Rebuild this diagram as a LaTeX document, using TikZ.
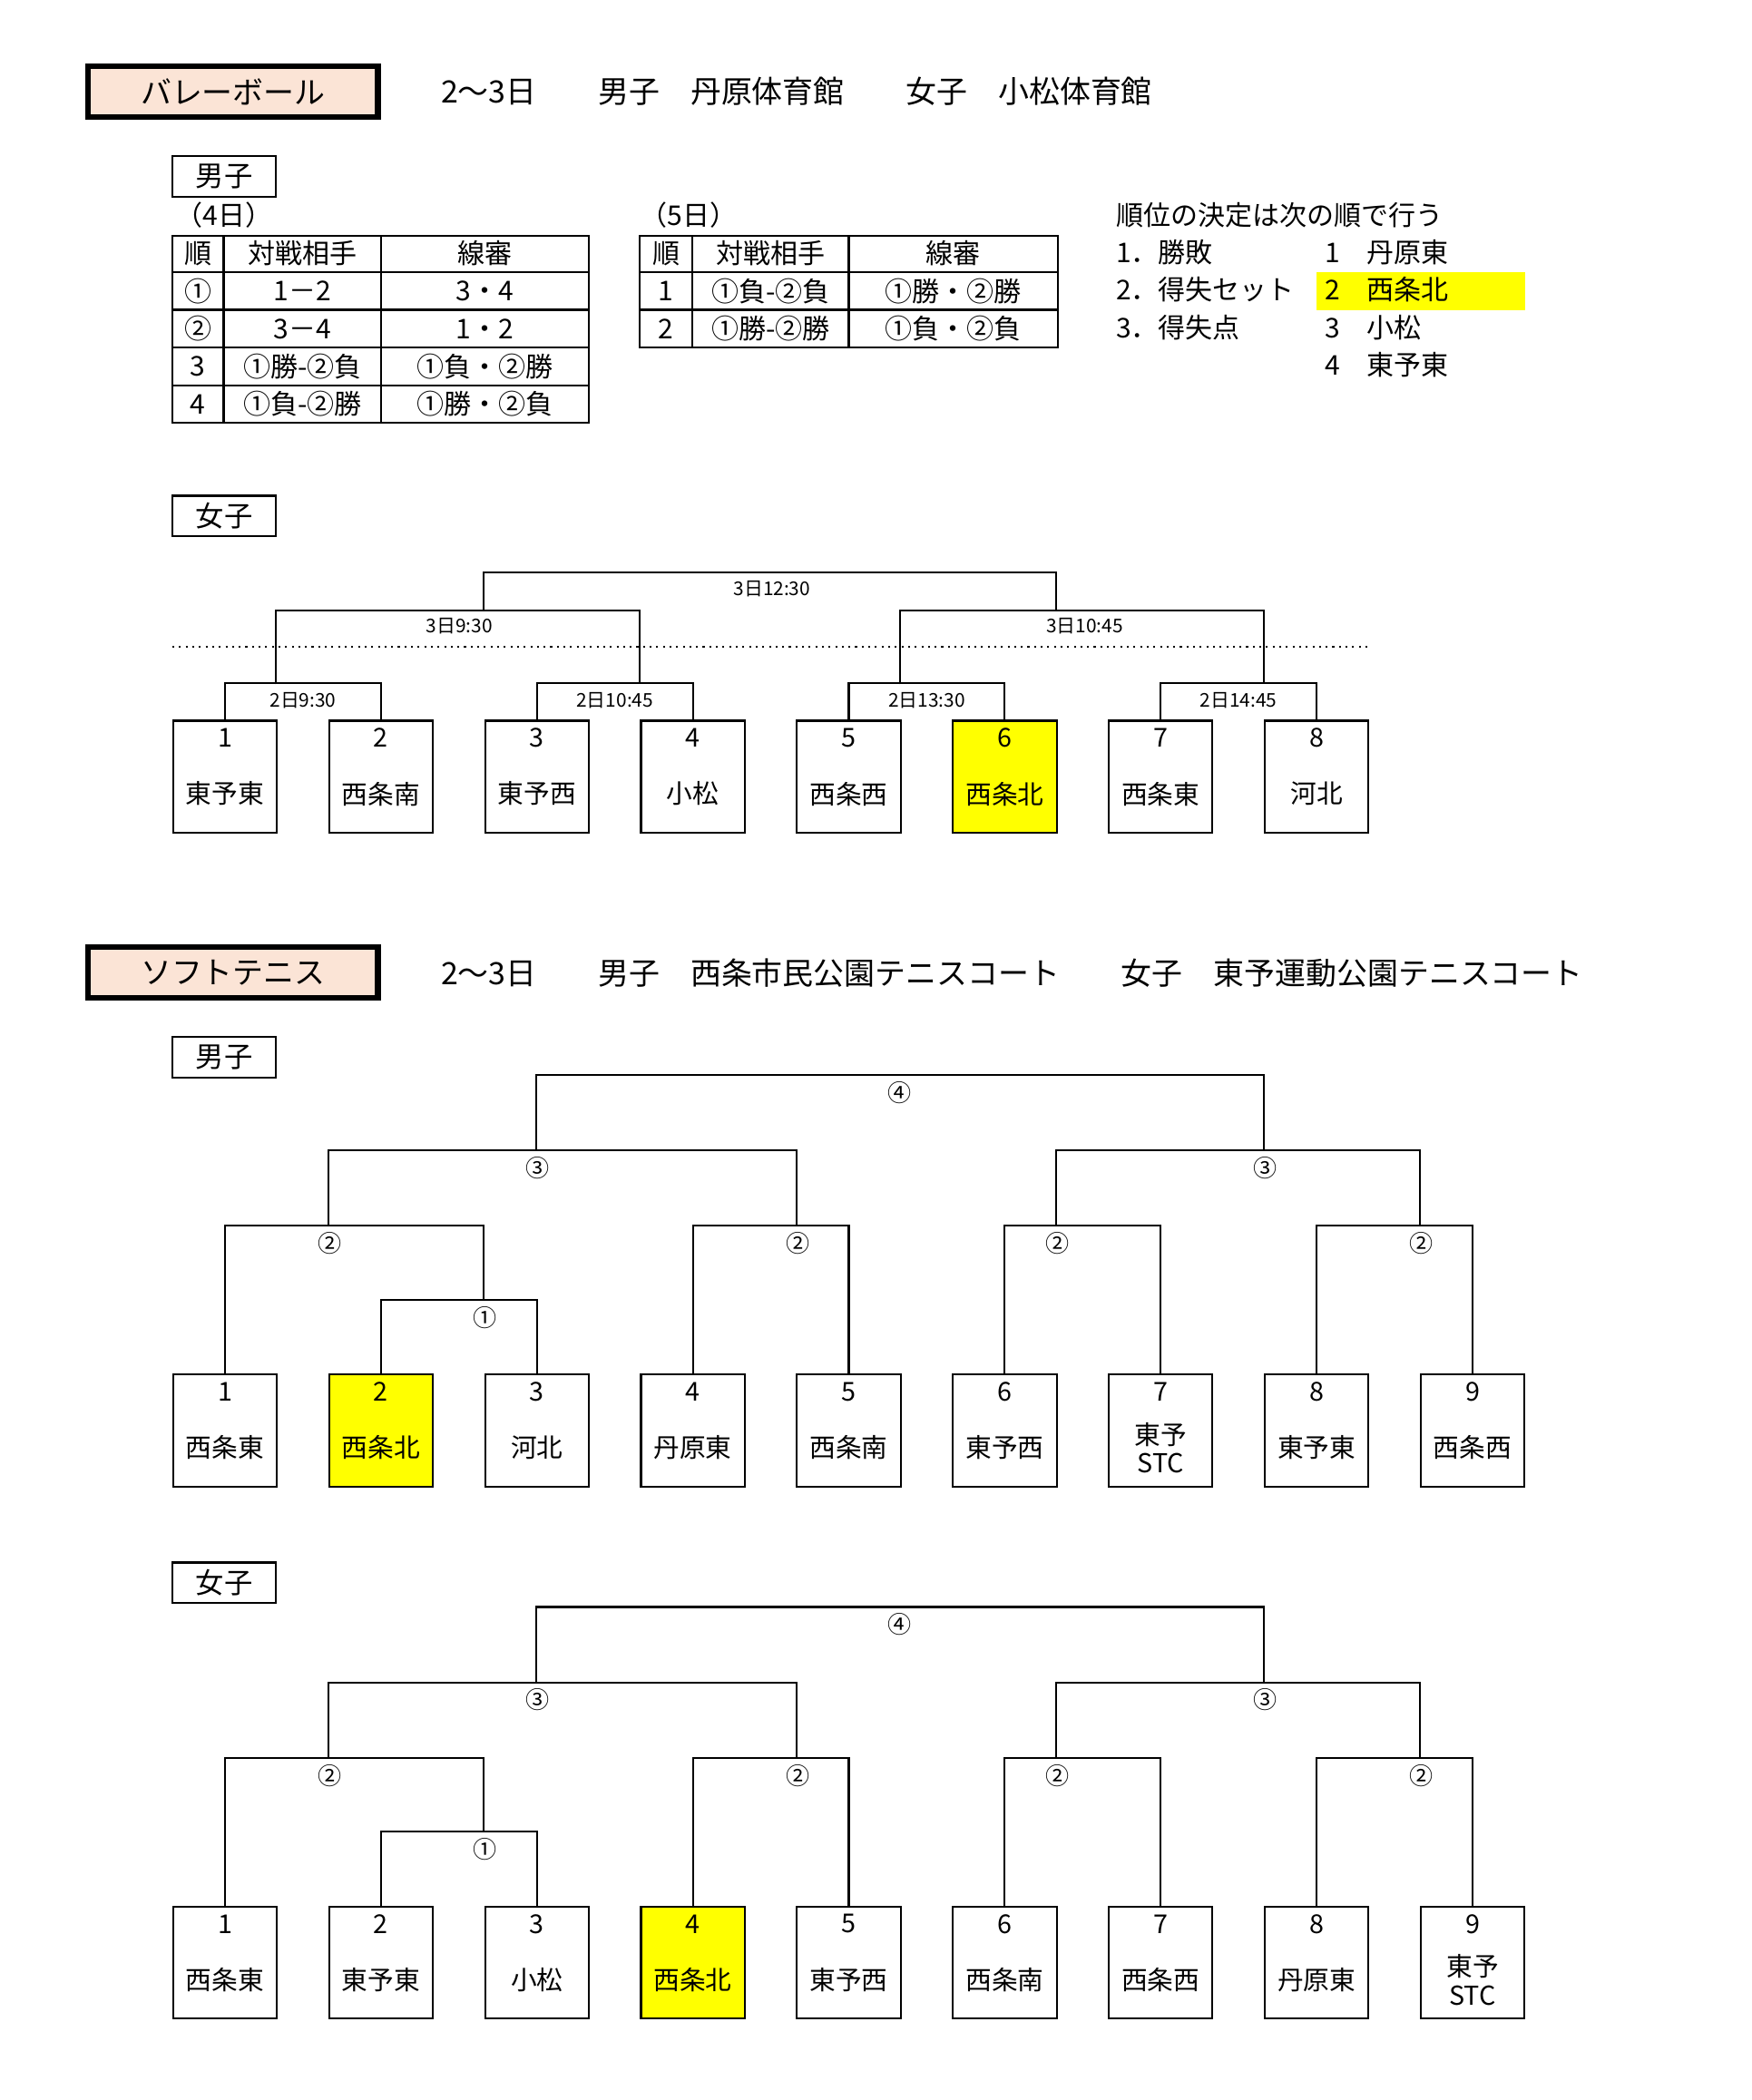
\documentclass[tikz,border=0pt]{standalone}
\usepackage{fontspec}
\setmainfont{Noto Sans CJK JP}
\usetikzlibrary{calc}
\definecolor{peach}{HTML}{FBE4D6}
\definecolor{hiyellow}{HTML}{FFFF00}
\begin{document}
\begin{tikzpicture}[x=0.02cm, y=-0.02cm,
    sporttitle/.style={draw, line width=2.4pt, fill=peach, minimum width=4.3cm, minimum height=0.76cm, inner sep=0pt, font=\fontsize{13}{15}\selectfont},
    venue/.style={anchor=west, inner sep=0pt, font=\fontsize{13}{15}\selectfont},
    tagbox/.style={draw, thick, minimum width=1.54cm, minimum height=0.6cm, inner sep=0pt, font=\fontsize{12}{14}\selectfont},
    cell/.style={inner sep=0pt, font=\fontsize{11.5}{13}\selectfont},
    teambox/.style={draw, thick, minimum width=1.54cm, minimum height=1.66cm, inner sep=0pt},
    teamname/.style={inner sep=0pt, align=center, font=\fontsize{11}{12}\selectfont},
    slot/.style={inner sep=0pt, font=\fontsize{8}{9}\selectfont},
    rnd/.style={inner sep=0pt, font=\fontsize{10}{11}\selectfont}
  ]
  \useasboundingbox (0,0) rectangle (1300,1559);

  % volleyball
  \node[sporttitle] (vb) at (173,68) {バレーボール};
  \node[venue] at (327,68) {2～3日　　男子　丹原体育館　　女子　小松体育館};
  \node[tagbox] (vm) at (166.5,131) {男子};
  \node[cell, anchor=west] at (130,160) {（4日）};
  \node[cell, anchor=west] at (475,160) {（5日）};

  % tables
  \draw[thick] (128,175) rectangle (437,314);
  \foreach \y in {202,230,258,286} \draw[thick] (128,\y) -- (437,\y);
  \draw[thick] (166,175) -- (166,314) (283,175) -- (283,314);
  \foreach \y/\a/\b/\c in {188/順/対戦相手/線審, 216/①/1－2/3・4, 244/②/3－4/1・2,
      272/3/①勝-②負/①負・②勝, 300/4/①負-②勝/①勝・②負}
    \node[cell] at (147,\y) {\a} node[cell] at (224.5,\y) {\b} node[cell] at (360,\y) {\c};
  \draw[thick] (475,175) rectangle (785,258);
  \foreach \y in {202,230} \draw[thick] (475,\y) -- (785,\y);
  \draw[thick] (514,175) -- (514,258) (630,175) -- (630,258);
  \foreach \y/\a/\b/\c in {188/順/対戦相手/線審, 216/1/①負-②負/①勝・②勝, 244/2/①勝-②勝/①負・②負}
    \node[cell] at (494.5,\y) {\a} node[cell] at (572,\y) {\b} node[cell] at (707.5,\y) {\c};

  % ranking
  \fill[hiyellow] (977,202) rectangle (1132,230);
  \node[cell, anchor=west] at (828,160) {順位の決定は次の順で行う};
  \foreach \y/\a/\b in {187/1．勝敗/1　丹原東, 215/2．得失セット/2　西条北, 243/3．得失点/3　小松, 271//4　東予東}
    \node[cell, anchor=west] at (828,\y) {\a} node[cell, anchor=west] at (983,\y) {\b};

  % volleyball women
  \node[tagbox] (vw) at (166.5,383) {女子};
  \foreach \i/\t/\c in {1/東予東/white, 2/西条南/white, 3/東予西/white, 4/小松/white,
      5/西条西/white, 6/西条北/hiyellow, 7/西条東/white, 8/河北/white} {
    \node[teambox, fill=\c] (v\i) at ({167+115.75*(\i-1)},576.5) {};
    \node[teamname] at ([yshift=-0.27cm]v\i.north) {\i};
    \node[teamname] at ([yshift=-1.1cm]v\i.north) {\t};
  }
  \foreach \a/\b/\t in {1/2/2日9:30, 3/4/2日10:45, 5/6/2日13:30, 7/8/2日14:45} {
    \draw[thick] (v\a.north) -- ++(0,-27) -| (v\b.north);
    \node[slot] at ($(v\a.north)!0.5!(v\b.north)+(0,-14)$) {\t};
  }
  \draw[thick] (205,508) |- (340,453) -| (475,508);
  \draw[thick] (668,508) |- (800,453) -| (938,508);
  \draw[thick] (359,453) |- (570,425) -| (784,453);
  \node[slot] at (341,465) {3日9:30};
  \node[slot] at (805,465) {3日10:45};
  \node[slot] at (573,437) {3日12:30};
  \draw[dotted, thick] (128,480) -- (1015,480);

  % soft tennis
  \node[sporttitle] (st) at (173,722) {ソフトテニス};
  \node[venue] at (327,722) {2～3日　　男子　西条市民公園テニスコート　　女子　東予運動公園テニスコート};
  \node[tagbox] (sm) at (166.5,785) {男子};
  \node[tagbox] (sw) at (166.5,1175) {女子};

  \foreach \g/\B/\L in {m/1020/{西条東,西条北,河北,丹原東,西条南,東予西,東予\\STC,東予東,西条西},
      w/1415/{西条東,東予東,小松,西条北,東予西,西条南,西条西,丹原東,東予\\STC}} {
    \foreach \t [count=\i] in \L {
      \node[teambox, fill=white] (\g\i) at ({167+115.75*(\i-1)},\B+42) {};
      \node[teamname] at ([yshift=-0.27cm]\g\i.north) {\i};
      \node[teamname] at ([yshift=-1.1cm]\g\i.north) {\t};
    }
    \draw[thick] (\g2.north) -- ++(0,-55) -| (\g3.north);
    \draw[thick] (\g1.north) |- (260,\B-110) -| (359,\B-55);
    \foreach \a/\b in {4/5, 6/7, 8/9}
      \draw[thick] (\g\a.north) -- ++(0,-110) -| (\g\b.north);
    \draw[thick] (244,\B-110) |- (400,\B-166) -| (591,\B-110);
    \draw[thick] (784,\B-110) |- (900,\B-166) -| (1054,\B-110);
    \draw[thick] (398,\B-166) |- (668,\B-222) -| (938,\B-166);
    \foreach \x/\d/\r in {360/42/①, 245/97/②, 592/97/②, 785/97/②, 1055/97/②, 399/153/③, 939/153/③, 668/209/④}
      \node[rnd] at (\x,\B-\d) {\r};
  }
  % highlighted teams
  \node[teambox, fill=hiyellow] at (m2) {};
  \node[teamname] at ([yshift=-0.27cm]m2.north) {2};
  \node[teamname] at ([yshift=-1.1cm]m2.north) {西条北};
  \node[teambox, fill=hiyellow] at (w4) {};
  \node[teamname] at ([yshift=-0.27cm]w4.north) {4};
  \node[teamname] at ([yshift=-1.1cm]w4.north) {西条北};
\end{tikzpicture}
\end{document}
